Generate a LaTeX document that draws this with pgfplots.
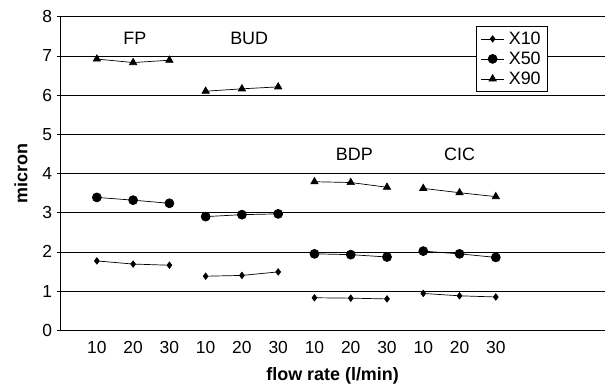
\documentclass[border=0pt]{standalone}
\usepackage{pgfplots}
\pgfplotsset{compat=1.18}
\usetikzlibrary{calc}
\usepackage{fontspec}
\setmainfont{Liberation Sans}
\newcommand\lf{\fontsize{18}{20}\selectfont}
\begin{document}
\begin{tikzpicture}
\begin{axis}[
  scale only axis, width=544bp, height=313.6bp,
  xmin=0, xmax=15, ymin=0, ymax=8,
  axis x line*=bottom, axis y line*=left,
  axis line style={black, line width=0.9pt},
  ytick={0,...,8}, ymajorgrids, grid style={black, line width=0.7pt},
  xtick={1,...,12}, xticklabels={10,20,30,10,20,30,10,20,30,10,20,30},
  major x tick style={draw=none},
  y tick style={black, line width=0.8pt}, tick align=outside, major tick length=4bp,
  tick label style={font=\fontsize{17.5}{20}\selectfont},
  /pgf/number format/assume math mode=true,
  xticklabel style={yshift=-4bp},
  yticklabel style={xshift=-1bp},
  xlabel={\bfseries flow rate (l/min)}, ylabel={\bfseries micron},
  label style={font=\fontsize{18}{20}\selectfont\bfseries},
  xlabel style={yshift=-6bp},
  ylabel style={yshift=8bp},
  legend style={at={(0.763,0.970)}, anchor=north west, draw=black, line width=0.6pt,
    inner xsep=5pt, inner ysep=4pt, row sep=3pt, column sep=3pt, font=\lf,
    nodes={inner sep=1.5pt}},
  legend image code/.code={
    \draw[mark repeat=2,mark phase=2,#1] plot coordinates {(0cm,0cm) (0.4cm,0cm) (0.8cm,0cm)};},
  legend cell align=left,
  clip=false,
]
\pgfplotsset{
  s10/.style={black, line width=0.7pt, mark=diamond*, mark size=3.2bp, mark options={solid, fill=black}},
  s50/.style={black, line width=0.7pt, mark=*, mark size=4.5bp, mark options={solid, fill=black}},
  s90/.style={black, line width=0.7pt, mark=triangle*, mark size=4.2bp, mark options={solid, fill=black}},
}
% FP
\addplot[s10] coordinates {(1,1.77) (2,1.69) (3,1.66)};
\addplot[s50] coordinates {(1,3.39) (2,3.32) (3,3.24)};
\addplot[s90] coordinates {(1,6.92) (2,6.83) (3,6.89)};
\legend{X10,X50,X90}
% BUD
\addplot[s10, forget plot] coordinates {(4,1.38) (5,1.40) (6,1.49)};
\addplot[s50, forget plot] coordinates {(4,2.90) (5,2.95) (6,2.97)};
\addplot[s90, forget plot] coordinates {(4,6.10) (5,6.16) (6,6.21)};
% BDP
\addplot[s10, forget plot] coordinates {(7,0.83) (8,0.82) (9,0.80)};
\addplot[s50, forget plot] coordinates {(7,1.95) (8,1.93) (9,1.87)};
\addplot[s90, forget plot] coordinates {(7,3.79) (8,3.77) (9,3.65)};
% CIC
\addplot[s10, forget plot] coordinates {(10,0.94) (11,0.88) (12,0.85)};
\addplot[s50, forget plot] coordinates {(10,2.02) (11,1.95) (12,1.86)};
\addplot[s90, forget plot] coordinates {(10,3.62) (11,3.51) (12,3.41)};
\node[font=\lf] at (axis cs:2.05,7.45) {FP};
\node[font=\lf] at (axis cs:5.2,7.45) {BUD};
\node[font=\lf] at (axis cs:8.1,4.5) {BDP};
\node[font=\lf] at (axis cs:11,4.5) {CIC};
\end{axis}
\pgfresetboundingbox
\useasboundingbox ($(current axis.south west)+(-60.6bp,-55.7bp)$) rectangle ($(current axis.south west)+(544.4bp,330.3bp)$);
\end{tikzpicture}
\end{document}
